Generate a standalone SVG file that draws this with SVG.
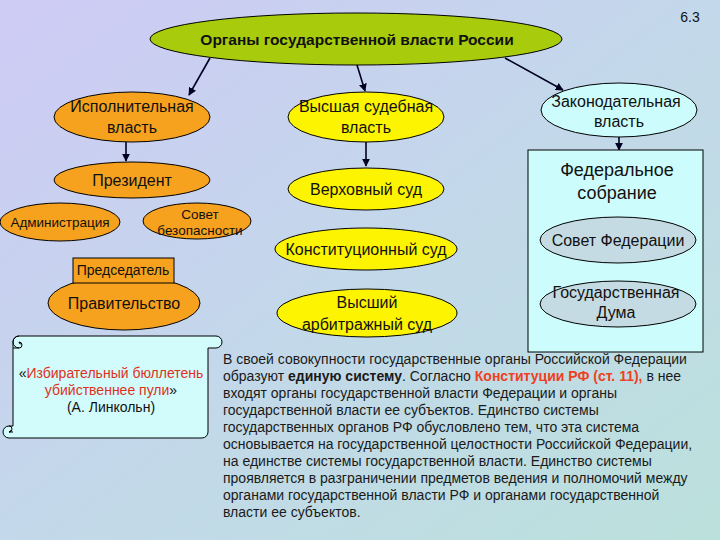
<svg xmlns="http://www.w3.org/2000/svg" width="720" height="540" viewBox="0 0 720 540">
<defs>
<linearGradient id="bg" x1="0" y1="0" x2="1" y2="1">
<stop offset="0" stop-color="#cecaf5"/>
<stop offset="0.5" stop-color="#c3d8ea"/>
<stop offset="1" stop-color="#bbe1dc"/>
</linearGradient>
<marker id="arr" viewBox="0 0 10 10" refX="9" refY="5" markerWidth="5" markerHeight="5" orient="auto">
<path d="M0,0 L10,5 L0,10 Z" fill="#000022"/>
</marker>
<style>
text{font-family:"Liberation Sans",Arial,sans-serif;fill:#111;}
.e{stroke:#000;stroke-width:1;}
.or{fill:#f6a21e;}
.ye{fill:#fcf400;}
.cy{fill:#ccfcfc;}
.gr{fill:#c4dbe4;}
.c{text-anchor:middle;font-size:16px;}
.s{text-anchor:middle;font-size:13.5px;}
.q{text-anchor:middle;font-size:14px;}
.p{font-size:14px;fill:#1a1a1a;}
.conn line{stroke:#000022;stroke-width:1.6;marker-end:url(#arr);}
</style>
</defs>
<rect width="720" height="540" fill="url(#bg)"/>
<text x="690" y="22" style="font-size:14px;text-anchor:middle">6.3</text>

<g id="root">
<ellipse class="e" cx="356" cy="39" rx="206" ry="26" fill="#a8cc0c"/>
<text x="357" y="45" style="font-size:15.5px;font-weight:bold;text-anchor:middle">Органы государственной власти России</text>
</g>

<g class="conn" id="connectors">
<line x1="210" y1="58" x2="189" y2="95"/>
<line x1="357" y1="65" x2="365" y2="91"/>
<line x1="505" y1="58" x2="563" y2="90"/>
<line x1="126" y1="142" x2="126" y2="161"/>
<line x1="366" y1="142" x2="366" y2="166"/>
<line x1="619" y1="137" x2="619" y2="150"/>
</g>

<g id="exec">
<ellipse class="e or" cx="132" cy="117" rx="78" ry="25"/>
<text class="c" x="132" y="112">Исполнительная</text>
<text class="c" x="132" y="133">власть</text>
</g>
<g id="president">
<ellipse class="e or" cx="132" cy="180" rx="78" ry="18"/>
<text class="c" x="132" y="186">Президент</text>
</g>
<g id="admin">
<ellipse class="e or" cx="60" cy="222" rx="60" ry="19"/>
<text class="s" x="60" y="227">Администрация</text>
</g>
<g id="security">
<ellipse class="e or" cx="197" cy="221" rx="54" ry="18"/>
<text class="s" x="200" y="219">Совет</text>
<text class="s" x="200" y="235">безопасности</text>
</g>
<g id="government">
<ellipse class="e or" cx="124" cy="303" rx="76" ry="27"/>
<text class="c" x="124" y="309">Правительство</text>
</g>
<g id="chairman">
<rect class="e or" x="73" y="258" width="101" height="25"/>
<text class="q" x="123" y="275">Председатель</text>
</g>

<g id="judicial">
<ellipse class="e ye" cx="366" cy="117" rx="78" ry="25"/>
<text class="c" x="366" y="112">Высшая судебная</text>
<text class="c" x="366" y="133">власть</text>
</g>
<g id="supreme">
<ellipse class="e ye" cx="366" cy="189" rx="78" ry="21"/>
<text class="c" x="366" y="195">Верховный суд</text>
</g>
<g id="constitutional">
<ellipse class="e ye" cx="366" cy="249" rx="91" ry="21"/>
<text class="c" x="366" y="255">Конституционный суд</text>
</g>
<g id="arbitration">
<ellipse class="e ye" cx="367" cy="313" rx="90" ry="24"/>
<text class="c" x="367" y="308">Высший</text>
<text class="c" x="367" y="330">арбитражный  суд</text>
</g>

<g id="legislative">
<ellipse class="e cy" cx="619" cy="110" rx="78" ry="27"/>
<text class="c" x="616" y="107">Законодательная</text>
<text class="c" x="619" y="127">власть</text>
</g>
<g id="assembly">
<rect class="e cy" x="528" y="150" width="175" height="202"/>
<text x="617" y="176" style="font-size:18px;text-anchor:middle">Федеральное</text>
<text x="617" y="199" style="font-size:18px;text-anchor:middle">собрание</text>
</g>
<g id="council">
<ellipse class="e gr" cx="618" cy="240" rx="78" ry="23"/>
<text class="c" x="618" y="246">Совет Федерации</text>
</g>
<g id="duma">
<ellipse class="e gr" cx="618" cy="304" rx="78" ry="23"/>
<text class="c" x="616" y="298">Государственная</text>
<text class="c" x="616" y="318">Дума</text>
</g>

<g id="scroll">
<path class="e" fill="#d2fbfb" d="M13,342 A6,6 0 0 1 19,336 H216 A6,6 0 0 1 216,348 H208 V432 A6,6 0 0 1 202,438 H9 A6,6 0 0 1 9,426 H13 Z"/>
<path fill="none" stroke="#000" stroke-width="1" d="M19,336 A6,6 0 0 0 19,348 H13 M19,348 A3,3 0 0 0 19,342 A2,2 0 0 0 21,344"/>
<path fill="none" stroke="#000" stroke-width="1" d="M9,426 A3,3 0 0 1 9,432 H13 M9,432 A2,2 0 0 0 11,430"/>
<text class="q" x="111" y="378"><tspan style="fill:#111">«</tspan><tspan style="fill:#e0301c">Избирательный бюллетень</tspan></text>
<text class="q" x="111" y="395"><tspan style="fill:#e0301c">убийственнее пули</tspan><tspan style="fill:#111">»</tspan></text>
<text class="q" x="111" y="412">(А. Линкольн)</text>
</g>

<g id="paragraph">
<text class="p" x="223" y="364">В своей совокупности государственные органы Российской Федерации</text>
<text class="p" x="223" y="381">образуют <tspan font-weight="bold">единую систему</tspan>. Согласно <tspan font-weight="bold" style="fill:#f04020">Конституции РФ (ст. 11),</tspan> в нее</text>
<text class="p" x="223" y="398">входят органы государственной власти Федерации и органы</text>
<text class="p" x="223" y="415">государственной власти ее субъектов. Единство системы</text>
<text class="p" x="223" y="432">государственных органов РФ обусловлено тем, что эта система</text>
<text class="p" x="223" y="449">основывается на государственной целостности Российской Федерации,</text>
<text class="p" x="223" y="466">на единстве системы государственной власти. Единство системы</text>
<text class="p" x="223" y="483">проявляется в разграничении предметов ведения и полномочий между</text>
<text class="p" x="223" y="500">органами государственной власти РФ и органами государственной</text>
<text class="p" x="223" y="517">власти ее субъектов.</text>
</g>
</svg>
